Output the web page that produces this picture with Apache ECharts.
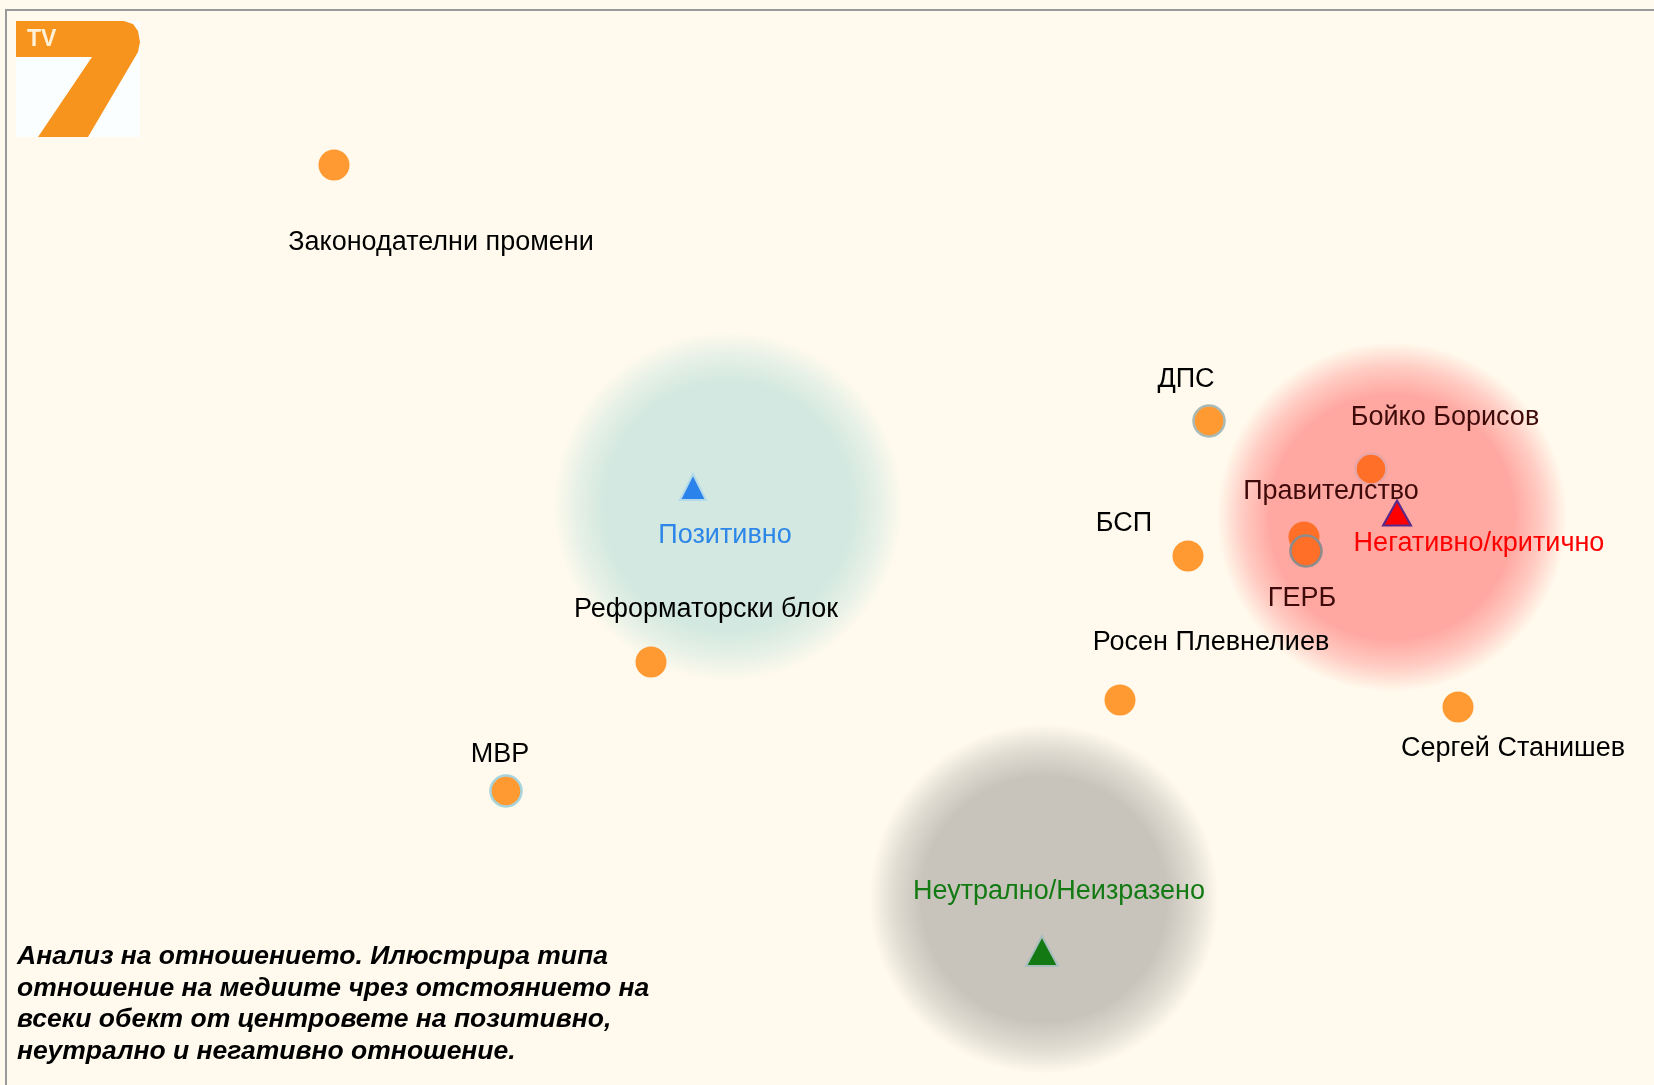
<!DOCTYPE html>
<html>
<head>
<meta charset="utf-8">
<script src="https://cdn.jsdelivr.net/npm/echarts@6/dist/echarts.min.js"></script>
<style>
  html, body { margin: 0; padding: 0; background: #fffaed; }
  #chart { width: 1654px; height: 1085px; }
</style>
</head>
<body>
<div id="chart"></div>
<script>
// objects of the media analysis (position on the map)
const objNames = ['Законодателни промени', 'ДПС', 'Бойко Борисов', 'Правителство', 'ГЕРБ',
  'БСП', 'Росен Плевнелиев', 'Сергей Станишев', 'Реформаторски блок', 'МВР'];
const objX = [334, 1209, 1371, 1304, 1306, 1188, 1120, 1458, 651, 506];
const objY = [165, 421, 469, 537, 551, 556, 700, 707, 662, 791];

// the three attitude centres
const centerNames = ['Позитивно', 'Негативно/критично', 'Неутрално/Неизразено'];
const centerX = [693, 1397, 1042];
const centerY = [487, 513, 951];

// blurred zones around the centres
const zoneX = [728, 1392, 1044];
const zoneY = [506, 517, 899];

// label placement relative to the marker
const objLabelOffset = [[107, 78], [-23, -41], [74, -51], [27, -45], [-4, 48],
  [-64, -32], [91, -57], [55, 42], [55, -52], [-6, -36]];
const centerLabelOffset = [[32, 49], [82, 31], [17, -59]];
const centerSizes = [[26, 26], [28, 25], [32, 30]];

// objects lying inside the red zone get a tinted look
const inRedZone = ['Бойко Борисов', 'Правителство', 'ГЕРБ'];
const dotBorders = {
  'ДПС': '#a9bab6',
  'МВР': '#a6d3dc',
  'ГЕРБ': '#8c8c8c',
  'Бойко Борисов': '#e8a5a5'
};

const zoneColors = ['rgba(210,232,224,', 'rgba(255,168,162,', 'rgba(200,196,188,'];
const centerColors = ['#2b82ea', '#ff0000', '#137a13'];
const centerBorders = ['#b3d9ea', '#5a2a8a', '#a9bdbd'];
const labelColors = ['#2d86e8', '#ff0000', '#137a13'];

const chart = echarts.init(document.getElementById('chart'));

const zoneData = zoneX.map((x, i) => ({
  value: [x, zoneY[i]],
  itemStyle: {
    opacity: 1,
    color: {
      type: 'radial', x: 0.5, y: 0.5, r: 0.5,
      colorStops: [
        { offset: 0, color: zoneColors[i] + '1)' },
        { offset: 0.7, color: zoneColors[i] + '1)' },
        { offset: 0.86, color: zoneColors[i] + '0.55)' },
        { offset: 1, color: zoneColors[i] + '0)' }
      ]
    }
  }
}));

const centerData = centerX.map((x, i) => ({
  name: centerNames[i],
  value: [x, centerY[i]],
  symbolSize: centerSizes[i],
  itemStyle: { opacity: 1, color: centerColors[i], borderColor: centerBorders[i], borderWidth: 2 },
  label: { offset: centerLabelOffset[i], color: labelColors[i] }
}));

const objData = objX.map((x, i) => {
  const n = objNames[i];
  const border = dotBorders[n];
  const red = inRedZone.includes(n);
  return {
    name: n,
    value: [x, objY[i]],
    itemStyle: {
      opacity: 1,
      color: red ? '#ff6f27' : '#ff9a33',
      borderColor: border || 'transparent',
      borderWidth: border ? 2.5 : 0
    },
    label: { offset: objLabelOffset[i], color: red ? '#3e0a0a' : '#000' }
  };
});

const labelBase = {
  show: true,
  position: 'inside',
  formatter: '{b}',
  fontFamily: 'Liberation Sans, Arial, sans-serif',
  fontSize: 27
};

chart.setOption({
  backgroundColor: '#fffaed',
  animation: false,
  grid: { left: 0, right: 0, top: 0, bottom: 0 },
  xAxis: { type: 'value', min: 0, max: 1654, show: false },
  yAxis: { type: 'value', min: 0, max: 1085, inverse: true, show: false },
  graphic: [
    {
      type: 'rect', silent: true, z: 1,
      shape: { x: 6, y: 10, width: 1700, height: 1100 },
      style: { fill: null, stroke: '#999', lineWidth: 2 }
    },
    {
      type: 'group', z: 100,
      children: [
        { type: 'rect', shape: { x: 16, y: 21, width: 124, height: 116 }, style: { fill: '#fbfeff' } },
        {
          type: 'polygon',
          shape: {
            points: [[16, 21], [124, 21], [133, 24], [138, 31], [140, 42], [138, 52],
              [88, 137], [38, 137], [92, 57], [16, 57]]
          },
          style: { fill: '#f7941d' }
        },
        {
          type: 'text', x: 27, y: 28,
          style: { text: 'TV', fill: '#fff1d8', font: 'bold 23px Liberation Sans, Arial' }
        }
      ]
    },
    {
      type: 'text', left: 17, top: 941, z: 100,
      style: {
        text: 'Анализ на отношението. Илюстрира типа\nотношение на медиите чрез отстоянието на\nвсеки обект от центровете на позитивно,\nнеутрално и негативно отношение.',
        fill: '#000',
        font: 'italic bold 26.5px Liberation Sans, Arial',
        lineHeight: 31.6
      }
    }
  ],
  series: [
    {
      type: 'scatter', silent: true, z: 1,
      symbol: 'circle', symbolSize: 350,
      data: zoneData
    },
    {
      type: 'scatter', z: 3,
      symbol: 'triangle',
      data: centerData,
      label: labelBase
    },
    {
      type: 'scatter', z: 2,
      symbol: 'circle', symbolSize: 31,
      data: objData,
      label: labelBase
    }
  ]
});
</script>
</body>
</html>
